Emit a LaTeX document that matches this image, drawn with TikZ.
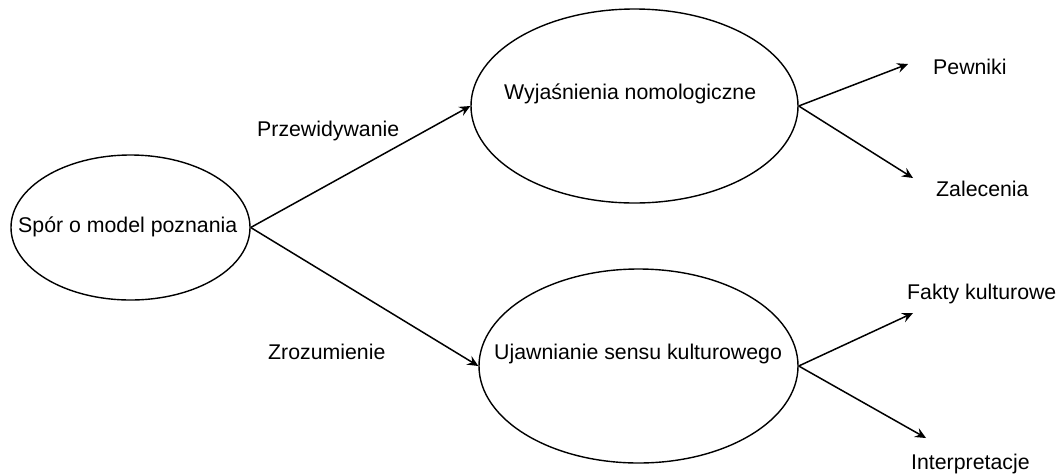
\documentclass[tikz,border=0pt]{standalone}
\usepackage{fontspec}
\setmainfont{Liberation Sans}
\usetikzlibrary{shapes.geometric,arrows.meta}
\begin{document}
\begin{tikzpicture}[x=1pt,y=-1pt,
  oval/.style={draw,ellipse,line width=1.4pt,inner sep=0pt},
  txt/.style={anchor=base west,inner sep=0pt,font=\fontsize{21.3pt}{25pt}\selectfont},
  conn/.style={line width=1.5pt,-{Stealth[length=11pt,width=10pt,inset=4pt]}}]
\useasboundingbox (0,0) rectangle (1064,475);
\node[oval,minimum width=239pt,minimum height=145pt] (L) at (130.5,227.5) {};
\node[oval,minimum width=327pt,minimum height=194pt] (U) at (634.5,106) {};
\node[oval,minimum width=319pt,minimum height=194pt] (D) at (638.5,366) {};
\node[txt] (tL) at (18,232) {Spór o model poznania};
\node[txt] (tU) at (504,99) {Wyjaśnienia nomologiczne};
\node[txt] (tD) at (494,359) {Ujawnianie sensu kulturowego};
\node[txt] (tP) at (257,136) {Przewidywanie};
\node[txt] (tZ) at (268,359) {Zrozumienie};
\node[txt] (tPw) at (933,74) {Pewniki};
\node[txt] (tZa) at (936,196) {Zalecenia};
\node[txt] (tF) at (907,299) {Fakty kulturowe};
\node[txt] (tI) at (911,469) {Interpretacje};
\coordinate (aPw) at (908,64);
\coordinate (aZa) at (913,178);
\coordinate (aF) at (913,313);
\coordinate (aI) at (926,438);
\draw[conn] (L.east) -- (U.west);
\draw[conn] (L.east) -- (D.west);
\draw[conn] (U.east) -- (aPw);
\draw[conn] (U.east) -- (aZa);
\draw[conn] (D.east) -- (aF);
\draw[conn] (D.east) -- (aI);
\end{tikzpicture}
\end{document}
